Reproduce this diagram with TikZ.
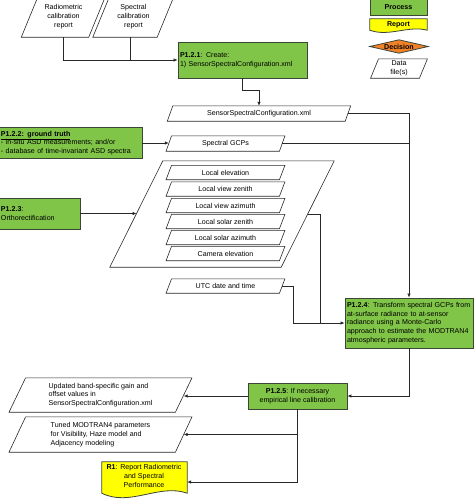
\documentclass[tikz,border=0pt]{standalone}
\usepackage{fontspec}
\setmainfont{Liberation Sans}
\usetikzlibrary{arrows.meta,calc}
\definecolor{pgreen}{RGB}{128,196,72}
\definecolor{pborder}{RGB}{60,70,55}
\definecolor{ryellow}{RGB}{255,255,0}
\definecolor{dorange}{RGB}{240,130,40}
\definecolor{lineclr}{RGB}{40,40,40}
\newcommand\drawpara[2]{\draw[paraline] ([xshift=#2pt]#1.north west) -- ([xshift=#2pt]#1.north east) -- ([xshift=-#2pt]#1.south east) -- ([xshift=-#2pt]#1.south west) -- cycle;}
\begin{document}
\begin{tikzpicture}[x=1pt,y=-1pt,
  font=\fontsize{7.1}{8.7}\selectfont,
  proc/.style={draw=pborder, fill=pgreen, line width=0.8pt, inner sep=2pt},
  dat/.style={inner sep=0pt, align=center},
  paraline/.style={draw=lineclr, line width=0.6pt},
  conn/.style={draw=lineclr, line width=0.6pt},
  arr/.style={conn, -{Latex[length=4pt,width=3.4pt]}},
  repfill/.style={draw=pborder, fill=ryellow, line width=0.8pt}]
\useasboundingbox (0,0) rectangle (474,501);
\clip (0,0) rectangle (474,501);

% ---- legend ----
\node[proc, minimum width=57pt, minimum height=17pt] (lproc) at (398.5,7) {\textbf{Process}};
\node[inner sep=0pt, minimum width=57pt, minimum height=11pt] (lrep) at (398.5,24.5) {};
\filldraw[repfill] (lrep.south east) -- (lrep.north east) -- (lrep.north west) -- (lrep.south west) .. controls +(19,7) and +(-19,-5) .. (lrep.south east) -- cycle;
\node at (398.5,25) {\textbf{Report}};
\node[inner sep=0pt, minimum width=58pt, minimum height=13pt] (ldec) at (399,46.5) {};
\filldraw[draw=pborder, fill=dorange, line width=0.8pt] (ldec.west) -- (ldec.north) -- (ldec.east) -- (ldec.south) -- cycle;
\node at (399,46.5) {\textbf{Decision}};
\node[dat, minimum width=48.5pt, minimum height=19pt] (ldat) at (399,68.5) {Data\\file(s)};
\drawpara{ldat}{4}

% ---- top reports ----
\node[dat, minimum width=67pt, minimum height=41pt] (rad) at (63.5,16.5) {Radiometric\\calibration\\report};
\drawpara{rad}{8.5}
\node[dat, minimum width=64pt, minimum height=41pt] (spc) at (133.5,16.5) {Spectral\\calibration\\report};
\drawpara{spc}{8.5}

% ---- processes and data ----
\node[proc, minimum width=129pt, minimum height=36pt, text width=125pt, align=left] (p121) at (242.5,60) {\textbf{P1.2.1}: Create:\\1) SensorSpectralConfiguration.xml};

\node[dat, minimum width=177.5pt, minimum height=15pt] (ssc) at (259,113.5) {SensorSpectralConfiguration.xml};
\drawpara{ssc}{2.75}

\node[proc, minimum width=143pt, minimum height=31pt, text width=139pt, align=left] (p122) at (70.5,143) {\underline{\textbf{P1.2.2: ground truth}}\\- in-situ ASD measurements; and/or\\- database of time-invariant ASD spectra};

\node[dat, minimum width=113pt, minimum height=15pt] (gcp) at (225.5,143.5) {Spectral GCPs};
\drawpara{gcp}{2.75}

\node[dat, minimum width=171pt, minimum height=106pt] (geo) at (222,214) {};
\drawpara{geo}{26.5}
\node[dat, minimum width=113pt, minimum height=14pt] (le) at (225.5,172.5) {Local elevation};
\drawpara{le}{2.75}
\node[dat, minimum width=113pt, minimum height=14pt] (lvz) at (225.5,189) {Local view zenith};
\drawpara{lvz}{2.75}
\node[dat, minimum width=113pt, minimum height=14pt] (lva) at (225.5,205.5) {Local view azimuth};
\drawpara{lva}{2.75}
\node[dat, minimum width=113pt, minimum height=14pt] (lsz) at (225.5,221.5) {Local solar zenith};
\drawpara{lsz}{2.75}
\node[dat, minimum width=113pt, minimum height=14pt] (lsa) at (225.5,237.5) {Local solar azimuth};
\drawpara{lsa}{2.75}
\node[dat, minimum width=113pt, minimum height=14pt] (ce) at (225.5,253.5) {Camera elevation};
\drawpara{ce}{2.75}

\node[proc, minimum width=81pt, minimum height=31pt, text width=77pt, align=left] (p123) at (39.5,213.5) {\textbf{P1.2.3}:\\Orthorectification};

\node[dat, minimum width=113pt, minimum height=14pt] (utc) at (225.5,286) {UTC date and time};
\drawpara{utc}{2.75}

\node[proc, minimum width=128pt, minimum height=50pt, text width=124pt, align=left] (p124) at (409,323) {\textbf{P1.2.4}: Transform spectral GCPs from\\at-surface radiance to at-sensor\\radiance using a Monte-Carlo\\approach to estimate the MODTRAN4\\atmospheric parameters.};

\node[proc, minimum width=99pt, minimum height=26pt, align=center] (p125) at (297.5,396) {\textbf{P1.2.5}: If necessary\\empirical line calibration};

\node[dat, minimum width=166pt, minimum height=34pt, align=left] (upd) at (100.5,395) {Updated band-specific gain and\\offset values in\\SensorSpectralConfiguration.xml};
\drawpara{upd}{8.3}
\node[dat, minimum width=166pt, minimum height=35pt, align=left] (tun) at (100.5,434.5) {Tuned MODTRAN4 parameters\\for Visibility, Haze model and\\Adjacency modeling};
\drawpara{tun}{8.3}

\node[inner sep=0pt, minimum width=85pt, minimum height=31pt] (r1) at (144.5,477.5) {};
\filldraw[repfill] (r1.south east) -- (r1.north east) -- (r1.north west) -- (r1.south west) .. controls +(28,14) and +(-28,-10) .. (r1.south east) -- cycle;
\node[align=center, inner sep=0pt] (r1t) at (144,476) {\textbf{R1}: Report Radiometric\\and Spectral\\Performance};

% ---- connectors ----
\draw[arr] (rad.south) |- (p121.west);
\draw[conn] ([xshift=-3.5pt]spc.south) -- ([xshift=-3.5pt]spc.south |- p121.west);
\draw[arr] (p121.south) -- ++(0,12) -| (ssc.north);
\draw[arr] (ssc.east) -| (p124.north);
\draw[conn] (gcp.east) -- (gcp.east -| p124.north);
\draw[arr] (p122.east) -- (p122.east -| gcp.west);
\draw[arr] (p123.east) -- ($(geo.west)+(0.25,-0.5)$);
\coordinate (j1) at (320,323);
\coordinate (j2) at (293,323);
\draw[conn] (geo.east) -| (j1);
\draw[arr] (utc.east) -| (j2) -- (p124.west);
\draw[arr] (p124.south) |- (p125.east);
\draw[arr] (p125.west) -- (p125.west -| upd.east);
\coordinate (j3) at (p125.south |- tun.east);
\draw[arr] (j3) -- (tun.east);
\draw[arr] (p125.south) |- ([yshift=-4.5pt]r1.east);
\end{tikzpicture}
\end{document}
